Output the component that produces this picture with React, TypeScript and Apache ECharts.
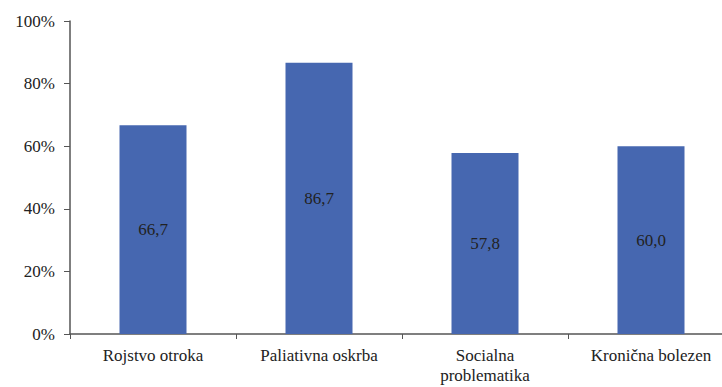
import React, { useEffect, useRef } from "react";
import * as echarts from "echarts";

const categories = ["Rojstvo otroka", "Paliativna oskrba", "Socialna\nproblematika", "Kronična bolezen"];
const values = [66.7, 86.7, 57.8, 60.0];
const yTicks = [0, 20, 40, 60, 80, 100];

export default function App() {
  const ref = useRef<HTMLDivElement>(null);
  useEffect(() => {
    if (!ref.current) return;
    const chart = echarts.init(ref.current, null, { renderer: "svg" });
    const font = "Liberation Serif, Times New Roman, serif";
    chart.setOption({
      animation: false,
      textStyle: { fontFamily: font },
      grid: { left: 70, top: 21, width: 664, bottom: 53, containLabel: false },
      xAxis: {
        type: "category",
        data: categories,
        axisLine: { lineStyle: { color: "#555", width: 1.5 } },
        axisTick: { show: true, length: 5, lineStyle: { color: "#555" } },
        axisLabel: { color: "#222", fontFamily: font, fontSize: 17, margin: 11, lineHeight: 20 },
      },
      yAxis: {
        type: "value",
        min: yTicks[0],
        max: yTicks[yTicks.length - 1],
        interval: 20,
        axisLine: { show: true, lineStyle: { color: "#555", width: 1.5 } },
        axisTick: { show: true, length: 6, lineStyle: { color: "#555" } },
        splitLine: { show: false },
        axisLabel: {
          color: "#222",
          fontFamily: font,
          fontSize: 17,
          margin: 15,
          formatter: (v: number) => v + "%",
        },
      },
      series: [
        {
          type: "bar",
          data: values,
          barWidth: 67,
          itemStyle: { color: "#4667B0" },
          label: {
            show: true,
            position: "inside",
            color: "#222",
            fontFamily: font,
            fontSize: 17,
            formatter: (p: any) => p.value.toFixed(1).replace(".", ","),
          },
        },
      ],
    });
    return () => chart.dispose();
  }, []);
  return (
    <div style={{ position: "absolute", left: 0, top: 0, width: 722, height: 387, overflow: "hidden" }}>
      <div ref={ref} style={{ width: 740, height: 387 }} />
    </div>
  );
}
